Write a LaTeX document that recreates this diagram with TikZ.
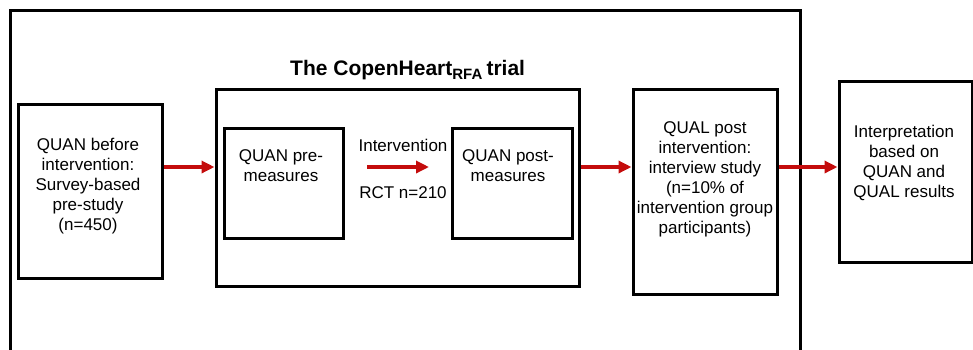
\documentclass[tikz,border=0pt]{standalone}
\usepackage{fontspec}
\setmainfont{Liberation Sans}
\usetikzlibrary{arrows.meta}
\definecolor{arrred}{RGB}{196,12,12}
\begin{document}
\begin{tikzpicture}[x=1pt,y=-1pt,
  box/.style={draw=black,line width=3pt,rectangle,inner sep=0pt},
  txt/.style={align=center,inner sep=0pt,font=\fontsize{17}{20}\selectfont},
  arr/.style={draw=arrred,line width=3.6pt,-{Triangle[length=13pt,width=12pt]}},
  frame/.style={draw=black,line width=3pt}]
\useasboundingbox (0,0) rectangle (973,349);
% outer frame (open at bottom)
\coordinate (fbl) at (10,352);
\coordinate (ftl) at (10,10);
\coordinate (ftr) at (800,10);
\coordinate (fbr) at (800,352);
\draw[frame] (fbl) -- (ftl) -- (ftr) -- (fbr);
% boxes
\node[box,minimum width=144pt,minimum height=174pt] (b1) at (90,191) {};
\node[box,minimum width=363pt,minimum height=197pt] (trial) at (397.5,187.5) {};
\node[box,minimum width=119pt,minimum height=110pt] (pre) at (283.5,183) {};
\node[box,minimum width=120pt,minimum height=110pt] (post) at (512,183) {};
\node[box,minimum width=144pt,minimum height=205pt] (qual) at (705,191.5) {};
\node[box,minimum width=133pt,minimum height=181pt] (interp) at (905.5,171.5) {};
% title
\node[anchor=base west,inner sep=0pt,font=\bfseries\fontsize{21}{24}\selectfont] (title) at (290,75)
  {The CopenHeart\raisebox{-4pt}{\fontsize{15}{15}\selectfont RFA }trial};
% texts
\node[txt] (t1) at (88,185.6) {QUAN before\\intervention:\\Survey-based\\pre-study\\(n=450)};
\node[txt] (t2) at (281,166) {QUAN pre-\\measures};
\node[txt] (t3) at (508,166) {QUAN post-\\measures};
\node[txt] (t4) at (705,179.6) {QUAL post\\intervention:\\interview study\\(n=10\% of\\intervention group\\participants)};
\node[txt] (t5) at (904,163) {Interpretation\\based on\\QUAN and\\QUAL results};
\node[txt,anchor=base] (int) at (403,151) {Intervention};
\node[txt,anchor=base] (rct) at (403,198) {RCT n=210};
% arrows
\coordinate (ay) at (0,167);
\coordinate (ia) at (367,167);
\coordinate (ib) at (429,167);
\draw[arr] (b1.east |- ay) -- (trial.west |- ay);
\draw[arr] (ia) -- (ib);
\draw[arr] (trial.east |- ay) -- (qual.west |- ay);
\draw[arr] (qual.east |- ay) -- (interp.west |- ay);
\end{tikzpicture}
\end{document}
